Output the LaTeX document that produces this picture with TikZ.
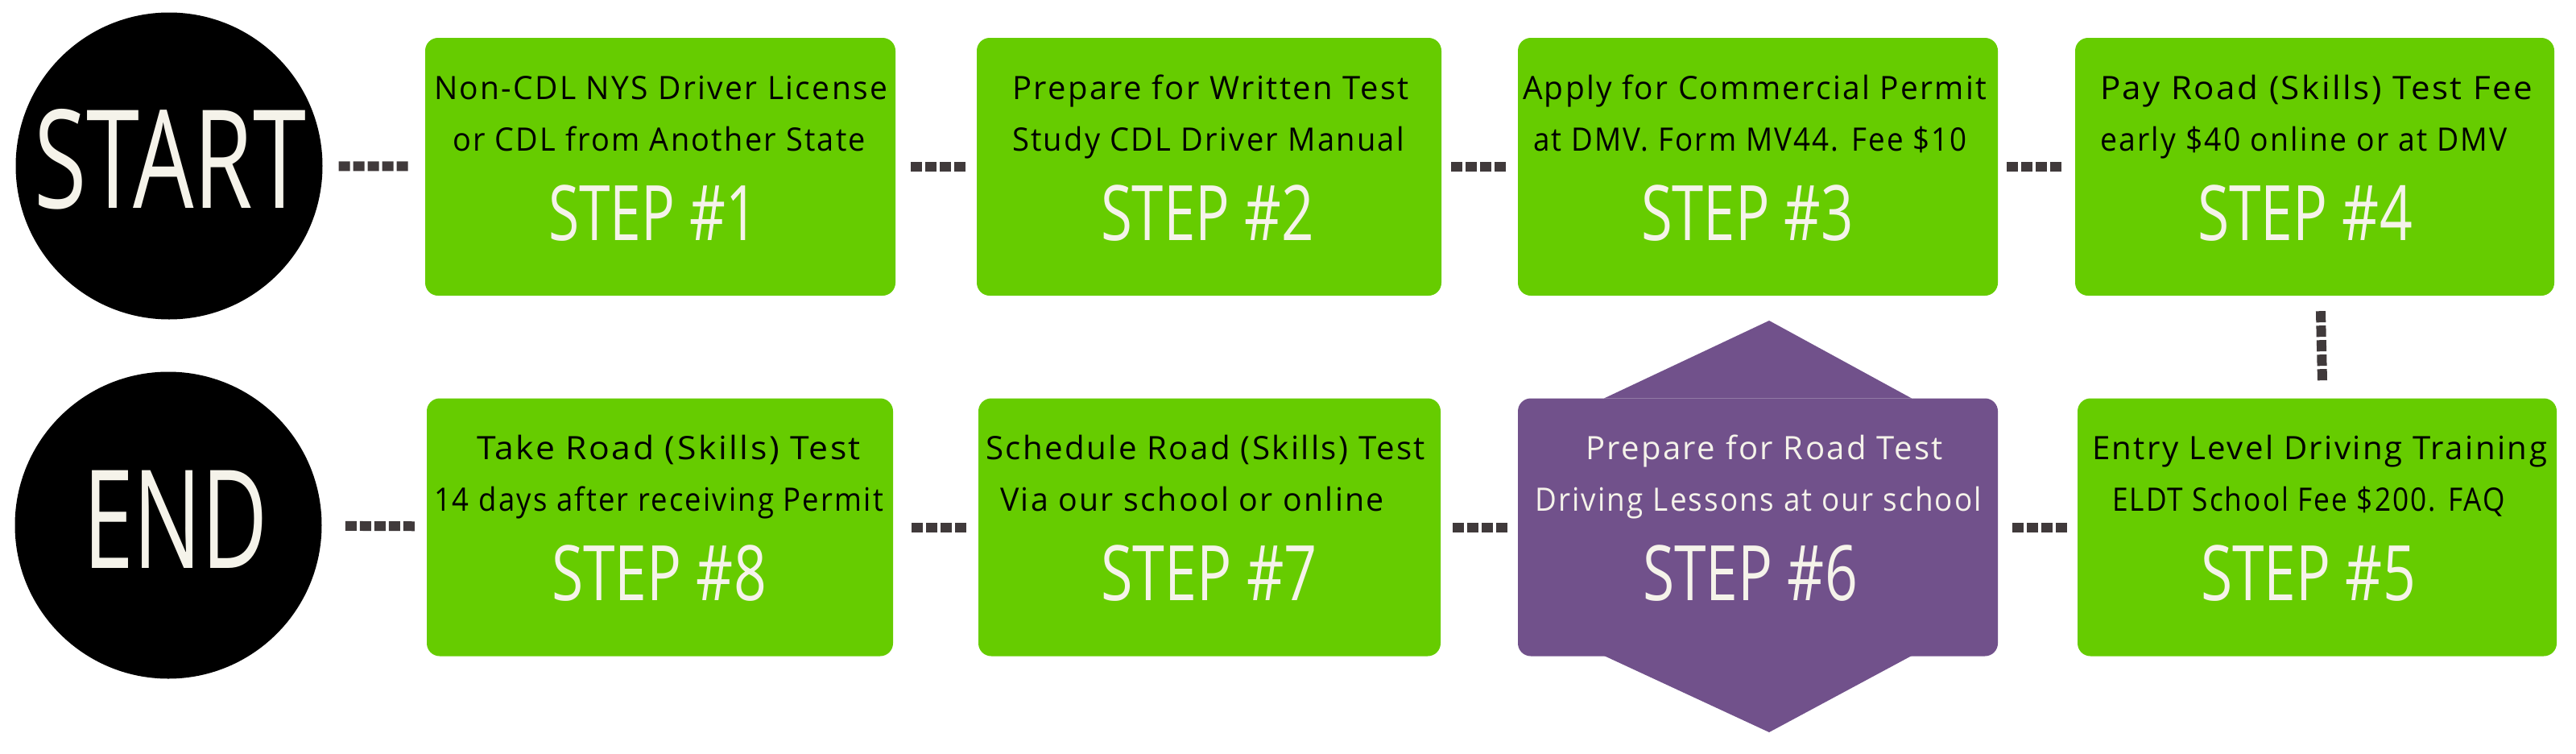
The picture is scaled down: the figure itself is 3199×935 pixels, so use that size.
\documentclass[tikz,border=0pt]{standalone}
\usepackage{graphicx}
\usepackage{fontspec}
\setmainfont{Open Sans}
\newfontfamily\spacedfont{Open Sans}[LetterSpace=6]
\definecolor{stepgreen}{HTML}{66CC00}
\definecolor{steppurple}{HTML}{71518B}
\definecolor{dashgray}{HTML}{403A3B}
\definecolor{cream}{HTML}{F5F3EA}
\newlength\fitlen
\newcommand\fitto[2]{\settowidth\fitlen{#2}\pgfmathsetmacro\fitxs{#1/\fitlen}\scalebox{\fitxs}[1]{#2}}
\tikzset{
  endcircle/.style={circle,fill=black,minimum size=381pt,inner sep=0pt},
  stepbox/.style={rectangle,rounded corners=16pt,fill=stepgreen,inner sep=0pt,minimum height=320pt},
  purplebox/.style={rectangle,rounded corners=16pt,fill=steppurple,inner sep=0pt,minimum height=320pt},
  linetext/.style={anchor=base,inner sep=0pt,text=black,font=\spacedfont\fontsize{40}{40}\selectfont},
  linetextw/.style={linetext,text=cream},
  steptext/.style={anchor=base,inner sep=0pt,text=cream,font=\fontsize{95}{95}\selectfont},
  bigtext/.style={anchor=base,inner sep=0pt,text=cream,font=\fontsize{170}{170}\selectfont},
  dots/.style={draw=dashgray,line width=12pt,dash pattern=on 14pt off 4pt,line cap=butt},
}
\begin{document}
\begin{tikzpicture}[x=1pt,y=-1pt]
\useasboundingbox (0,0) rectangle (3199,935);
% start / end
\node[endcircle] (start) at (210,206) {};
\node[endcircle] (end) at (209,652) {};
\node[bigtext] (starttxt) at (211,258) {\fitto{338}{START}};
\node[bigtext] (endtxt) at (218,705) {\fitto{230}{END}};
% top row boxes
\node[stepbox,minimum width=584pt] (s1) at (820,207) {};
\node[stepbox,minimum width=577pt] (s2) at (1501.5,207) {};
\node[stepbox,minimum width=596pt] (s3) at (2183,207) {};
\node[stepbox,minimum width=595pt] (s4) at (2874.5,207) {};
% bottom row boxes
\node[stepbox,minimum width=579pt] (s8) at (819.5,654.5) {};
\node[stepbox,minimum width=574pt] (s7) at (1502,654.5) {};
\node[stepbox,minimum width=595pt] (s5) at (2877.5,654.5) {};
\fill[steppurple] (1992,494.5) -- (2197,398) -- (2374,494.5) -- cycle;
\fill[steppurple] (1992,814) -- (2197,909) -- (2374,814) -- cycle;
\node[purplebox,minimum width=596pt] (s6) at (2183,654.5) {};
% texts step 1
\node[linetext] (t1a) at (820.5,123) {\fitto{563}{Non-CDL NYS Driver License}};
\node[linetext] (t1b) at (818.5,187) {\fitto{513}{or CDL from Another State}};
\node[steptext] (t1c) at (811,298) {\fitto{260}{STEP \#1}};
% step 2
\node[linetext] (t2a) at (1503.5,123) {\fitto{493}{Prepare for Written Test}};
\node[linetext] (t2b) at (1500.5,187) {\fitto{487}{Study CDL Driver Manual}};
\node[steptext] (t2c) at (1499.5,298) {\fitto{265}{STEP \#2}};
% step 3
\node[linetext] (t3a) at (2179,123) {\fitto{576}{Apply for Commercial Permit}};
\node[linetext] (t3b) at (2173.5,187) {\fitto{539}{at DMV. Form MV44. Fee \$10}};
\node[steptext] (t3c) at (2170,298) {\fitto{264}{STEP \#3}};
% step 4
\node[linetext] (t4a) at (2876.5,123) {\fitto{537}{Pay Road (Skills) Test Fee}};
\node[linetext] (t4b) at (2861,187) {\fitto{506}{early \$40 online or at DMV}};
\node[steptext] (t4c) at (2862.5,298) {\fitto{267}{STEP \#4}};
% step 5
\node[linetext] (t5a) at (2880.5,570) {\fitto{565}{Entry Level Driving Training}};
\node[linetext] (t5b) at (2867,634) {\fitto{488}{ELDT School Fee \$200. FAQ}};
\node[steptext] (t5c) at (2866.5,745) {\fitto{267}{STEP \#5}};
% step 6
\node[linetextw] (t6a) at (2191,570) {\fitto{444}{Prepare for Road Test}};
\node[linetextw] (t6b) at (2183.5,634) {\fitto{555}{Driving Lessons at our school}};
\node[steptext] (t6c) at (2173.5,745) {\fitto{267}{STEP \#6}};
% step 7
\node[linetext] (t7a) at (1497,570) {\fitto{546}{Schedule Road (Skills) Test}};
\node[linetext] (t7b) at (1480.5,634) {\fitto{477}{Via our school or online}};
\node[steptext] (t7c) at (1501.5,745) {\fitto{269}{STEP \#7}};
% step 8
\node[linetext] (t8a) at (830.5,570) {\fitto{477}{Take Road (Skills) Test}};
\node[linetext] (t8b) at (818,634) {\fitto{558}{14 days after receiving Permit}};
\node[steptext] (t8c) at (818.5,745) {\fitto{267}{STEP \#8}};
% connectors
\draw[dots,shorten <=20pt,shorten >=19pt] (start) -- (s1);
\draw[dots,shorten <=19pt,shorten >=14pt] (s1) -- (s2);
\draw[dots,shorten <=12pt,shorten >=13pt] (s2) -- (s3);
\draw[dots,shorten <=11pt,shorten >=15pt] (s3) -- (s4);
\draw[dots,shorten <=19pt,shorten >=19pt] ([xshift=7pt]s4.south) -- ([xshift=7pt]s5.north);
\draw[dots,shorten <=13pt,shorten >=17pt] (s5) -- (s6);
\draw[dots,shorten <=13pt,shorten >=11pt] (s6) -- (s7);
\draw[dots,shorten <=15pt,shorten >=20pt] (s7) -- (s8);
\draw[dots,shorten <=15pt,shorten >=27pt] (s8) -- (end);
\end{tikzpicture}
\end{document}
